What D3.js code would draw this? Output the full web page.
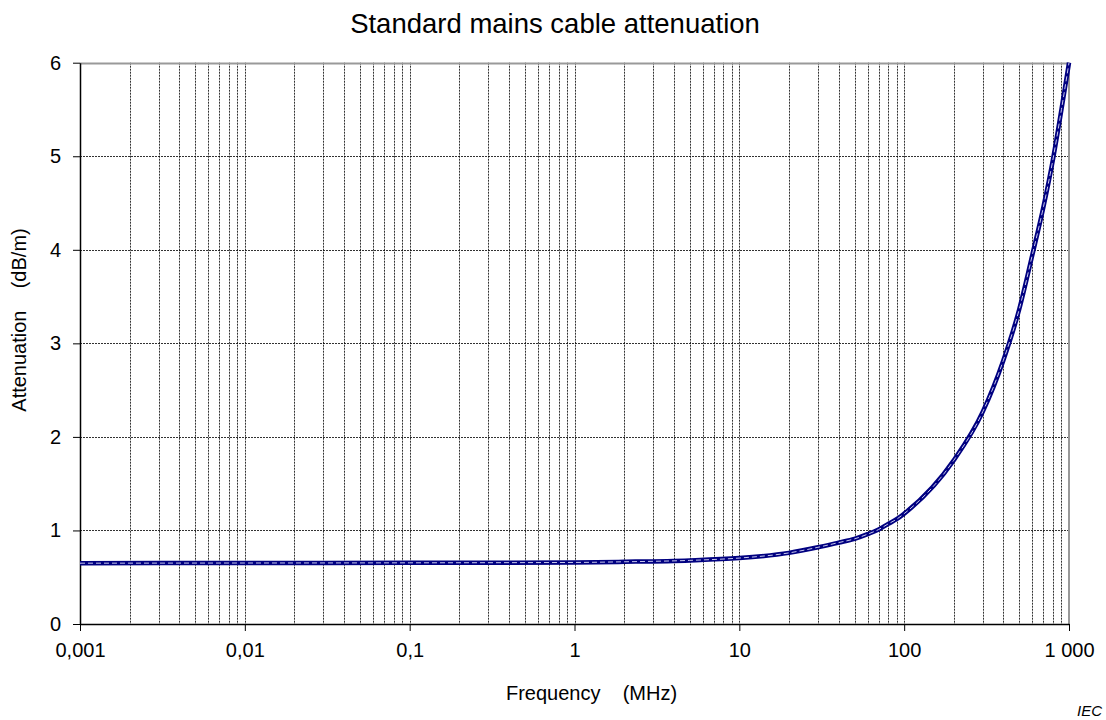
<!DOCTYPE html>
<html>
<head>
<meta charset="utf-8">
<script src="https://cdn.jsdelivr.net/npm/d3@7"></script>
<style>
  body { margin: 0; background: #fff; }
  svg { display: block; font-family: "Liberation Sans", Arial, sans-serif; }
</style>
</head>
<body>
<svg id="chart" width="1106" height="720"></svg>
<script>
const frequencies = [0.001, 0.01, 0.1, 1, 2, 5, 10, 20, 30, 40, 50, 60, 70, 80, 90, 100, 200, 300, 400, 500, 600, 700, 800, 900, 1000];
const attenuation = [0.65, 0.652, 0.654, 0.658, 0.665, 0.68, 0.705, 0.76, 0.82, 0.87, 0.91, 0.96, 1.01, 1.07, 1.12, 1.18, 1.75, 2.27, 2.82, 3.37, 3.95, 4.46, 4.97, 5.5, 6.0];
const xTickValues = [0.001, 0.01, 0.1, 1, 10, 100, 1000];
const xTickLabels = ["0,001", "0,01", "0,1", "1", "10", "100", "1 000"];
const yTickValues = [0, 1, 2, 3, 4, 5, 6];

const svg = d3.select("#chart");
const pLeft = 80, pRight = 1069, pTop = 62.7, pBottom = 624;

const x = d3.scaleLog().domain([0.001, 1000]).range([pLeft, pRight]);
const y = d3.scaleLinear().domain([0, 6]).range([pBottom, pTop]);

// minor grid values
const gridX = [];
for (let e = -3; e < 3; e++) {
  for (let m = 1; m <= 9; m++) gridX.push(m * Math.pow(10, e));
}

const grid = svg.append("g");
grid.selectAll("line.vx").data(gridX.filter(v => v > 0.001 && v < 1000)).join("line")
  .attr("x1", d => Math.round(x(d)) + 0.5).attr("x2", d => Math.round(x(d)) + 0.5)
  .attr("y1", pTop).attr("y2", pBottom)
  .attr("stroke", "#000").attr("stroke-width", 1).attr("stroke-dasharray", "2,1").attr("opacity", 0.8);
grid.selectAll("line.hy").data(yTickValues.filter(v => v > 0 && v < 6)).join("line")
  .attr("x1", pLeft).attr("x2", pRight)
  .attr("y1", d => Math.round(y(d)) + 0.5).attr("y2", d => Math.round(y(d)) + 0.5)
  .attr("stroke", "#000").attr("stroke-width", 1).attr("stroke-dasharray", "2,1").attr("opacity", 0.8);

// top and right border (gray)
svg.append("line").attr("x1", pLeft).attr("x2", pRight).attr("y1", Math.round(pTop) + 0.5).attr("y2", Math.round(pTop) + 0.5)
  .attr("stroke", "#999").attr("stroke-width", 2);
svg.append("line").attr("x1", pRight).attr("x2", pRight).attr("y1", pTop).attr("y2", pBottom)
  .attr("stroke", "#999").attr("stroke-width", 2);

// axes
const xAxis = d3.axisBottom(x).tickValues(xTickValues).tickFormat((d, i) => xTickLabels[i]).tickSize(7).tickSizeOuter(0).tickPadding(12);
const gx = svg.append("g").attr("transform", `translate(0,${pBottom})`).call(xAxis);
gx.select(".domain").attr("stroke", "#000").attr("stroke-width", 1.5);
gx.selectAll(".tick line").attr("stroke", "#000");
gx.selectAll("text").attr("font-size", 20).attr("fill", "#000").attr("font-family", "Liberation Sans, Arial, sans-serif");

const yAxis = d3.axisLeft(y).tickValues(yTickValues).tickFormat(d3.format("d")).tickSize(7).tickSizeOuter(0).tickPadding(12);
const gy = svg.append("g").attr("transform", `translate(${pLeft},0)`).call(yAxis);
gy.select(".domain").attr("stroke", "#000").attr("stroke-width", 1.5);
gy.selectAll(".tick line").attr("stroke", "#000");
gy.selectAll("text").attr("font-size", 20).attr("fill", "#000").attr("font-family", "Liberation Sans, Arial, sans-serif");

// data line
const data = frequencies.map((f, i) => ({ f, a: attenuation[i] }));
const line = d3.line().x(d => x(d.f)).y(d => y(d.a)).curve(d3.curveMonotoneX);
svg.append("path").datum(data).attr("d", line)
  .attr("fill", "none").attr("stroke", "#000080").attr("stroke-width", 4.5).attr("stroke-linejoin", "round");
svg.append("path").datum(data).attr("d", line)
  .attr("fill", "none").attr("stroke", "#c8c8ee").attr("stroke-width", 1).attr("stroke-dasharray", "5,3");

// titles
svg.append("text").attr("x", 555).attr("y", 33).attr("text-anchor", "middle")
  .attr("font-size", 27.5).attr("fill", "#000").text("Standard mains cable attenuation");
svg.append("text").attr("x", 591.5).attr("y", 700).attr("text-anchor", "middle")
  .attr("font-size", 20).attr("fill", "#000").attr("xml:space", "preserve").text("Frequency    (MHz)");
svg.append("text").attr("transform", "translate(26,320) rotate(-90)").attr("text-anchor", "middle")
  .attr("font-size", 20).attr("fill", "#000").attr("xml:space", "preserve").text("Attenuation    (dB/m)");
svg.append("text").attr("x", 1102).attr("y", 716).attr("text-anchor", "end")
  .attr("font-size", 15).attr("font-style", "italic").attr("fill", "#000").text("IEC");
</script>
</body>
</html>
